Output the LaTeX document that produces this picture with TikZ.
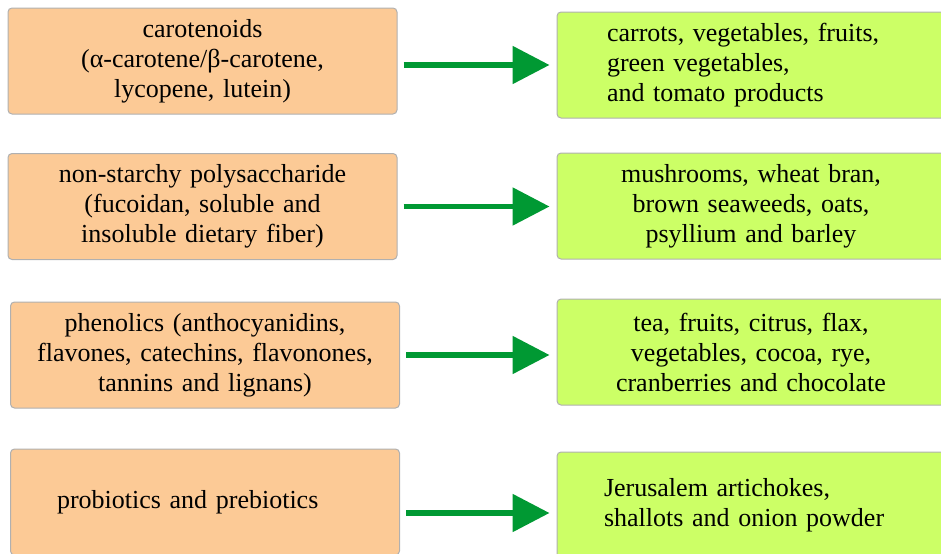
\documentclass[tikz,border=0pt]{standalone}
\usepackage{fontspec}
\setmainfont{Liberation Serif}
\usetikzlibrary{arrows.meta,calc}

\definecolor{peach}{RGB}{252,202,150}
\definecolor{lime}{RGB}{204,255,102}
\definecolor{boxline}{RGB}{176,176,176}
\definecolor{flowgreen}{RGB}{0,153,51}

\tikzset{every picture/.style={line width=0.75pt}}
\tikzset{
  group/.style={draw=boxline, fill=peach, rounded corners=3pt, minimum width=291.75pt, minimum height=79.5pt, inner sep=4pt, text width=272pt, align=center, font=\fontsize{19.5}{22.5}\selectfont},
  source/.style={draw=boxline, fill=lime, rounded corners=3pt, minimum width=291pt, minimum height=79.5pt, inner sep=4pt, text width=272pt, align=center, font=\fontsize{19.5}{22.5}\selectfont},
  flow/.style={draw=flowgreen, line width=4pt, -{Triangle[length=27.75pt,width=27.75pt]}, shorten <=4.5pt, shorten >=5.25pt}
}

\begin{document}
\begin{tikzpicture}[x=0.75pt,y=0.75pt,yscale=-1,xscale=1]
\useasboundingbox (0,0) rectangle (941,553);
\clip (0,0) rectangle (941,553);

% Group Boxes
\node [group] (car) at (202.5,61) {carotenoids\\(α-carotene/β-carotene,\\lycopene, lutein)};
\node [group] (poly) at (202.5,206.5) {non-starchy polysaccharide\\(fucoidan, soluble and\\insoluble dietary fiber)};
\node [group] (phen) at (205,355) {phenolics (anthocyanidins,\\flavones, catechins, flavonones,\\tannins and lignans)};
\node [group, text width=222pt, align=left] (bio) at (205,502) {probiotics and prebiotics};

% Source Boxes
\node [source, text width=216pt, align=left] (carsrc) at (751,65) {carrots, vegetables, fruits,\\green vegetables,\\and tomato products};
\node [source] (polysrc) at (751,206) {mushrooms, wheat bran,\\brown seaweeds, oats,\\psyllium and barley};
\node [source] (phensrc) at (751,352) {tea, fruits, citrus, flax,\\vegetables, cocoa, rye,\\cranberries and chocolate};
\node [source, text width=220.5pt, align=left] (biosrc) at (751,505) {Jerusalem artichokes,\\shallots and onion powder};

% Arrows
\coordinate (bioout) at ($(bio.east)+(0,11)$);
\draw [flow] (car.east |- carsrc.west) -- (carsrc.west);
\draw [flow] (poly.east) -- (poly.east -| polysrc.west);
\draw [flow] (phen.east) -- (phen.east -| phensrc.west);
\draw [flow] (bioout) -- (bioout -| biosrc.west);

\end{tikzpicture}
\end{document}
